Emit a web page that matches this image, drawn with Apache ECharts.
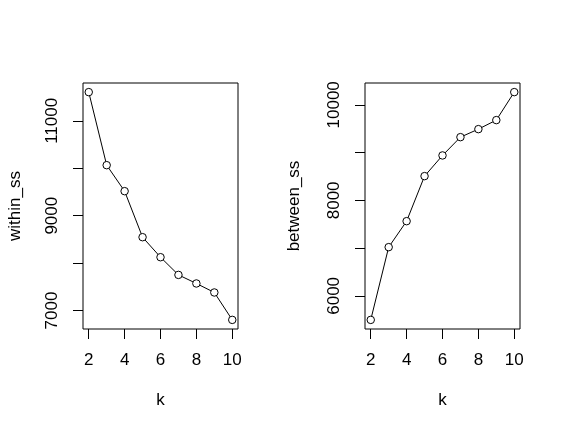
<!DOCTYPE html>
<html>
<head>
<meta charset="utf-8">
<script src="https://cdn.jsdelivr.net/npm/echarts@6/dist/echarts.min.js"></script>
<style>
html,body{margin:0;padding:0;background:#fff;}
#c{width:563px;height:434px;}
</style>
</head>
<body>
<div id="c"></div>
<script>
var kValues = [2, 3, 4, 5, 6, 7, 8, 9, 10];
var withinSS = [11606, 10065, 9517, 8546, 8124, 7751, 7570, 7380, 6802];
var betweenSS = [5497, 7020, 7564, 8507, 8940, 9323, 9491, 9680, 10266];
var xTicks = [2, 4, 6, 8, 10];
var withinTicks = [7000, 8000, 9000, 10000, 11000];
var withinLabels = [7000, 9000, 11000];
var betweenTicks = [6000, 7000, 8000, 9000, 10000];
var betweenLabels = [6000, 8000, 10000];

function pad(arr) {
  var lo = Math.min.apply(null, arr), hi = Math.max.apply(null, arr);
  var d = (hi - lo) * 0.04;
  return [lo - d, hi + d];
}
var xr = pad(kValues), wr = pad(withinSS), br = pad(betweenSS);
function pairs(ys) { return kValues.map(function (k, i) { return [k, ys[i]]; }); }

var FONT = 'Liberation Sans, Arial, sans-serif';
var txt = { color: '#000', fontFamily: FONT, fontSize: 17 };
function plain(v) { return String(Math.round(v)); }

function xAxisCfg(gi) {
  return {
    type: 'value', gridIndex: gi, min: xr[0], max: xr[1],
    name: 'k', nameLocation: 'middle', nameGap: 63,
    nameTextStyle: txt,
    axisLine: { show: false },
    axisTick: { show: true, length: 10, inside: false, customValues: xTicks, lineStyle: { color: '#000', width: 1 } },
    axisLabel: Object.assign({ margin: 23, customValues: xTicks, formatter: plain }, txt),
    splitLine: { show: false }
  };
}
function yAxisCfg(gi, r, ticks, labels, name, gap) {
  return {
    type: 'value', gridIndex: gi, min: r[0], max: r[1],
    name: name, nameLocation: 'middle', nameGap: gap, nameRotate: 90,
    nameTextStyle: txt,
    axisLine: { show: false },
    axisTick: { show: true, length: 10, inside: false, customValues: ticks, lineStyle: { color: '#000', width: 1 } },
    axisLabel: Object.assign({ margin: 22, rotate: 90, customValues: labels, formatter: plain }, txt),
    splitLine: { show: false }
  };
}
function seriesCfg(gi, ys) {
  return {
    type: 'line', xAxisIndex: gi, yAxisIndex: gi, data: pairs(ys),
    symbol: 'circle', symbolSize: 7.5, showSymbol: true,
    lineStyle: { color: '#000', width: 1 },
    itemStyle: { color: '#fff', borderColor: '#000', borderWidth: 1 },
    animation: false, silent: true
  };
}

var chart = echarts.init(document.getElementById('c'), null, { renderer: 'canvas' });
chart.setOption({
  backgroundColor: '#fff',
  animation: false,
  grid: [
    { left: 83, top: 83, width: 155, height: 246, show: true, borderColor: '#000', borderWidth: 1, backgroundColor: 'transparent' },
    { left: 365, top: 83, width: 155, height: 246, show: true, borderColor: '#000', borderWidth: 1, backgroundColor: 'transparent' }
  ],
  xAxis: [xAxisCfg(0), xAxisCfg(1)],
  yAxis: [
    yAxisCfg(0, wr, withinTicks, withinLabels, 'within_ss', 59),
    yAxisCfg(1, br, betweenTicks, betweenLabels, 'between_ss', 62)
  ],
  series: [seriesCfg(0, withinSS), seriesCfg(1, betweenSS)]
});
</script>
</body>
</html>
